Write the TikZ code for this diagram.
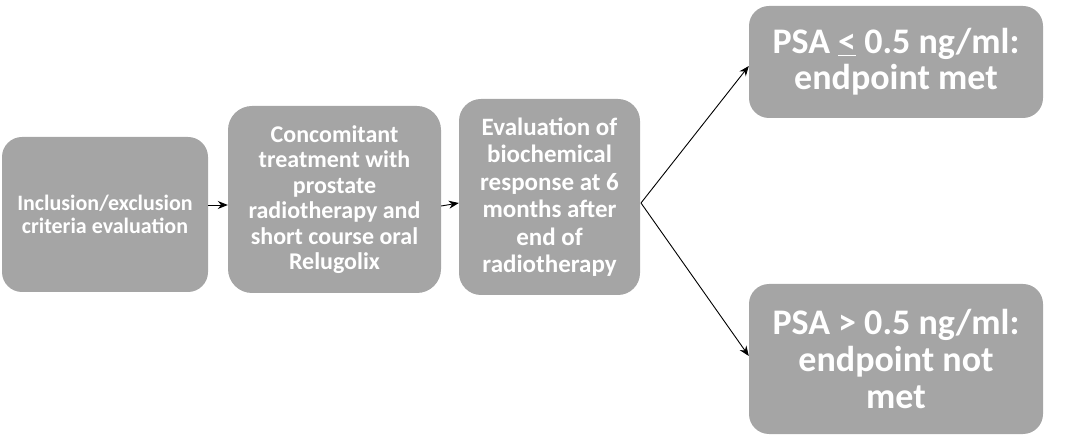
\documentclass[tikz,border=0pt]{standalone}
\usepackage{fontspec}
\setmainfont{Carlito}
\usetikzlibrary{arrows.meta}
\definecolor{boxgray}{HTML}{A5A5A5}
\tikzset{
  stagebox/.style={rectangle, rounded corners=20pt, fill=boxgray, draw=none,
    text=white, font=\bfseries, align=center, inner sep=0pt},
  arr/.style={draw=black, line width=0.9pt, -{Stealth[length=10pt,width=8pt]}}
}
\begin{document}
\begin{tikzpicture}[x=1pt,y=-1pt]
\useasboundingbox (0,0) rectangle (1082,446);
\node[stagebox, minimum width=206pt, minimum height=155pt,
  font=\fontsize{22}{23}\bfseries] (b1) at (105,214.5)
  {Inclusion/exclusion\\criteria evaluation};
\node[stagebox, minimum width=213pt, minimum height=187pt, rounded corners=24pt,
  font=\fontsize{24}{25.5}\bfseries] (b2) at (334.5,199.5)
  {Concomitant\\treatment with\\prostate\\radiotherapy and\\short course oral\\Relugolix};
\node[stagebox, minimum width=181pt, minimum height=196pt, rounded corners=22pt,
  font=\fontsize{25}{27.5}\bfseries] (b3) at (549.5,197)
  {Evaluation of\\biochemical\\response at 6\\months after\\end of\\radiotherapy};
\node[stagebox, minimum width=294pt, minimum height=112pt,
  font=\fontsize{36}{36}\bfseries] (b4) at (896,62)
  {PSA \underline{<} 0.5 ng/ml:\\endpoint met};
\node[stagebox, minimum width=294pt, minimum height=150pt,
  font=\fontsize{36}{37}\bfseries] (b5) at (896,359)
  {PSA > 0.5 ng/ml:\\endpoint not\\met};
\coordinate (r1) at (0,205);
\coordinate (r2a) at (0,206);
\coordinate (r2b) at (0,203);
\coordinate (fan) at (641,203);
\coordinate (up) at (0,66);
\coordinate (dn) at (0,356);
\draw[arr] (b1.east |- r1) -- (b2.west |- r1);
\draw[arr] (b2.east |- r2a) -- (b3.west |- r2b);
\draw[arr] (fan) -- (b4.west |- up);
\draw[arr] (fan) -- (b5.west |- dn);
\end{tikzpicture}
\end{document}
